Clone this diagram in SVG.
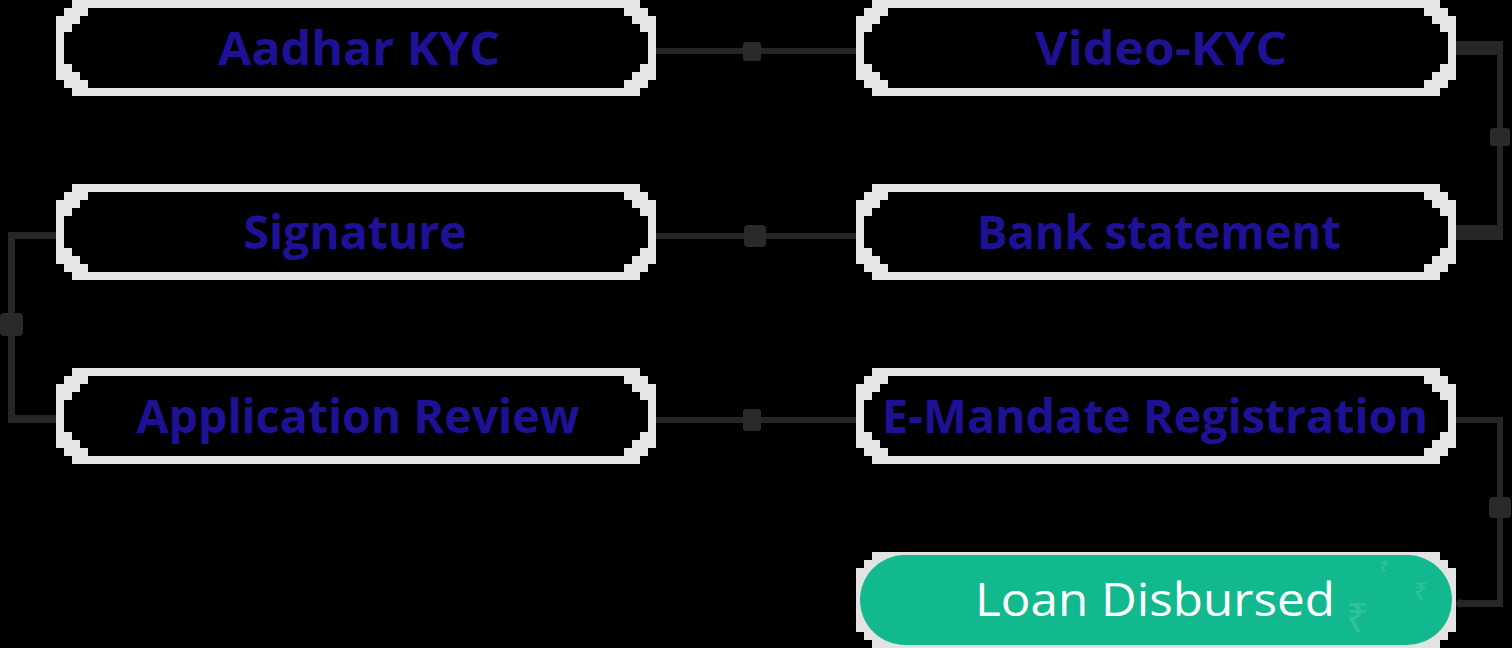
<svg xmlns="http://www.w3.org/2000/svg" xmlns:xlink="http://www.w3.org/1999/xlink" width="1512" height="648" viewBox="0 0 1512 648">
  <style>
    .frame { fill: #e6e6e6; fill-rule: evenodd; }
    .lbl { font-family: "Open Sans", "Liberation Sans", sans-serif; font-weight: 700; font-size: 47px; fill: #1d1296; text-anchor: middle; }
    .lbl-w { font-family: "Open Sans", "Liberation Sans", sans-serif; font-weight: 400; font-size: 46px; fill: #ffffff; text-anchor: middle; }
    .wire { fill: #262626; }
    .dot { fill: #2a2a2a; }
    .rs { font-family: "Noto Sans", "DejaVu Sans", sans-serif; fill: #ffffff; opacity: 0.13; }
  </style>
  <defs>
    <path id="frame" class="frame" d="M16,0 H584 V8 H592 V16 H600 V80 H592 V88 H584 V96 H16 V88 H8 V80 H0 V16 H8 V8 H16 Z M32,8 H568 V16 H576 V24 H584 V32 H592 V64 H584 V72 H576 V80 H568 V88 H32 V80 H24 V72 H16 V64 H8 V32 H16 V24 H24 V16 H32 Z"/>
    <path id="frameSolid" d="M16,0 H584 V8 H592 V16 H600 V80 H592 V88 H584 V96 H16 V88 H8 V80 H0 V16 H8 V8 H16 Z" fill="#e3e3e3"/>
  </defs>
  <rect width="1512" height="648" fill="#000000"/>

  <g id="connectors">
    <rect class="wire" x="656" y="48" width="200" height="6"/>
    <rect class="dot" x="743" y="42" width="18" height="19" rx="3"/>
    <rect class="wire" x="1456" y="41" width="47" height="14"/>
    <rect class="wire" x="1497" y="41" width="6" height="199"/>
    <rect class="wire" x="1456" y="225" width="47" height="15"/>
    <rect class="dot" x="1490" y="128" width="20" height="18" rx="3"/>
    <rect class="wire" x="656" y="233" width="200" height="6"/>
    <rect class="dot" x="744" y="225" width="22" height="22" rx="4"/>
    <rect class="wire" x="8" y="232" width="49" height="7"/>
    <rect class="wire" x="8" y="232" width="7" height="191"/>
    <rect class="wire" x="8" y="415" width="49" height="8"/>
    <rect class="dot" x="0" y="313" width="23" height="23" rx="4"/>
    <rect class="wire" x="656" y="417" width="200" height="6"/>
    <rect class="dot" x="743" y="409" width="18" height="22" rx="3"/>
    <rect class="wire" x="1456" y="417" width="47" height="6"/>
    <rect class="wire" x="1497" y="417" width="6" height="190"/>
    <rect class="wire" x="1460" y="600" width="43" height="7"/>
    <circle class="wire" cx="1460" cy="603.5" r="4"/>
    <rect class="dot" x="1489" y="497" width="22" height="21" rx="4"/>
  </g>

  <g id="aadhar-kyc">
    <use xlink:href="#frame" x="56" y="0"/>
    <text class="lbl" x="359" y="65" textLength="282" lengthAdjust="spacingAndGlyphs">Aadhar KYC</text>
  </g>
  <g id="video-kyc">
    <use xlink:href="#frame" x="856" y="0"/>
    <text class="lbl" x="1161" y="65" textLength="252" lengthAdjust="spacingAndGlyphs">Video-KYC</text>
  </g>
  <g id="signature">
    <use xlink:href="#frame" x="56" y="184"/>
    <text class="lbl" x="355" y="249" textLength="223" lengthAdjust="spacingAndGlyphs">Signature</text>
  </g>
  <g id="bank-statement">
    <use xlink:href="#frame" x="856" y="184"/>
    <text class="lbl" x="1159" y="249" textLength="364" lengthAdjust="spacingAndGlyphs">Bank statement</text>
  </g>
  <g id="application-review">
    <use xlink:href="#frame" x="56" y="368"/>
    <text class="lbl" x="358" y="433" textLength="443" lengthAdjust="spacingAndGlyphs">Application Review</text>
  </g>
  <g id="e-mandate-registration">
    <use xlink:href="#frame" x="856" y="368"/>
    <text class="lbl" x="1155" y="433" textLength="546" lengthAdjust="spacingAndGlyphs">E-Mandate Registration</text>
  </g>
  <g id="loan-disbursed">
    <use xlink:href="#frameSolid" x="856" y="552"/>
    <rect x="860" y="555" width="592" height="90" rx="45" fill="#12b98e"/>
    <text class="rs" x="1346" y="632" font-size="40">₹</text>
    <text class="rs" x="1414" y="600" font-size="24">₹</text>
    <text class="rs" x="1380" y="572" font-size="16">₹</text>
    <text class="lbl-w" x="1155" y="616" textLength="360" lengthAdjust="spacingAndGlyphs">Loan Disbursed</text>
  </g>
</svg>
